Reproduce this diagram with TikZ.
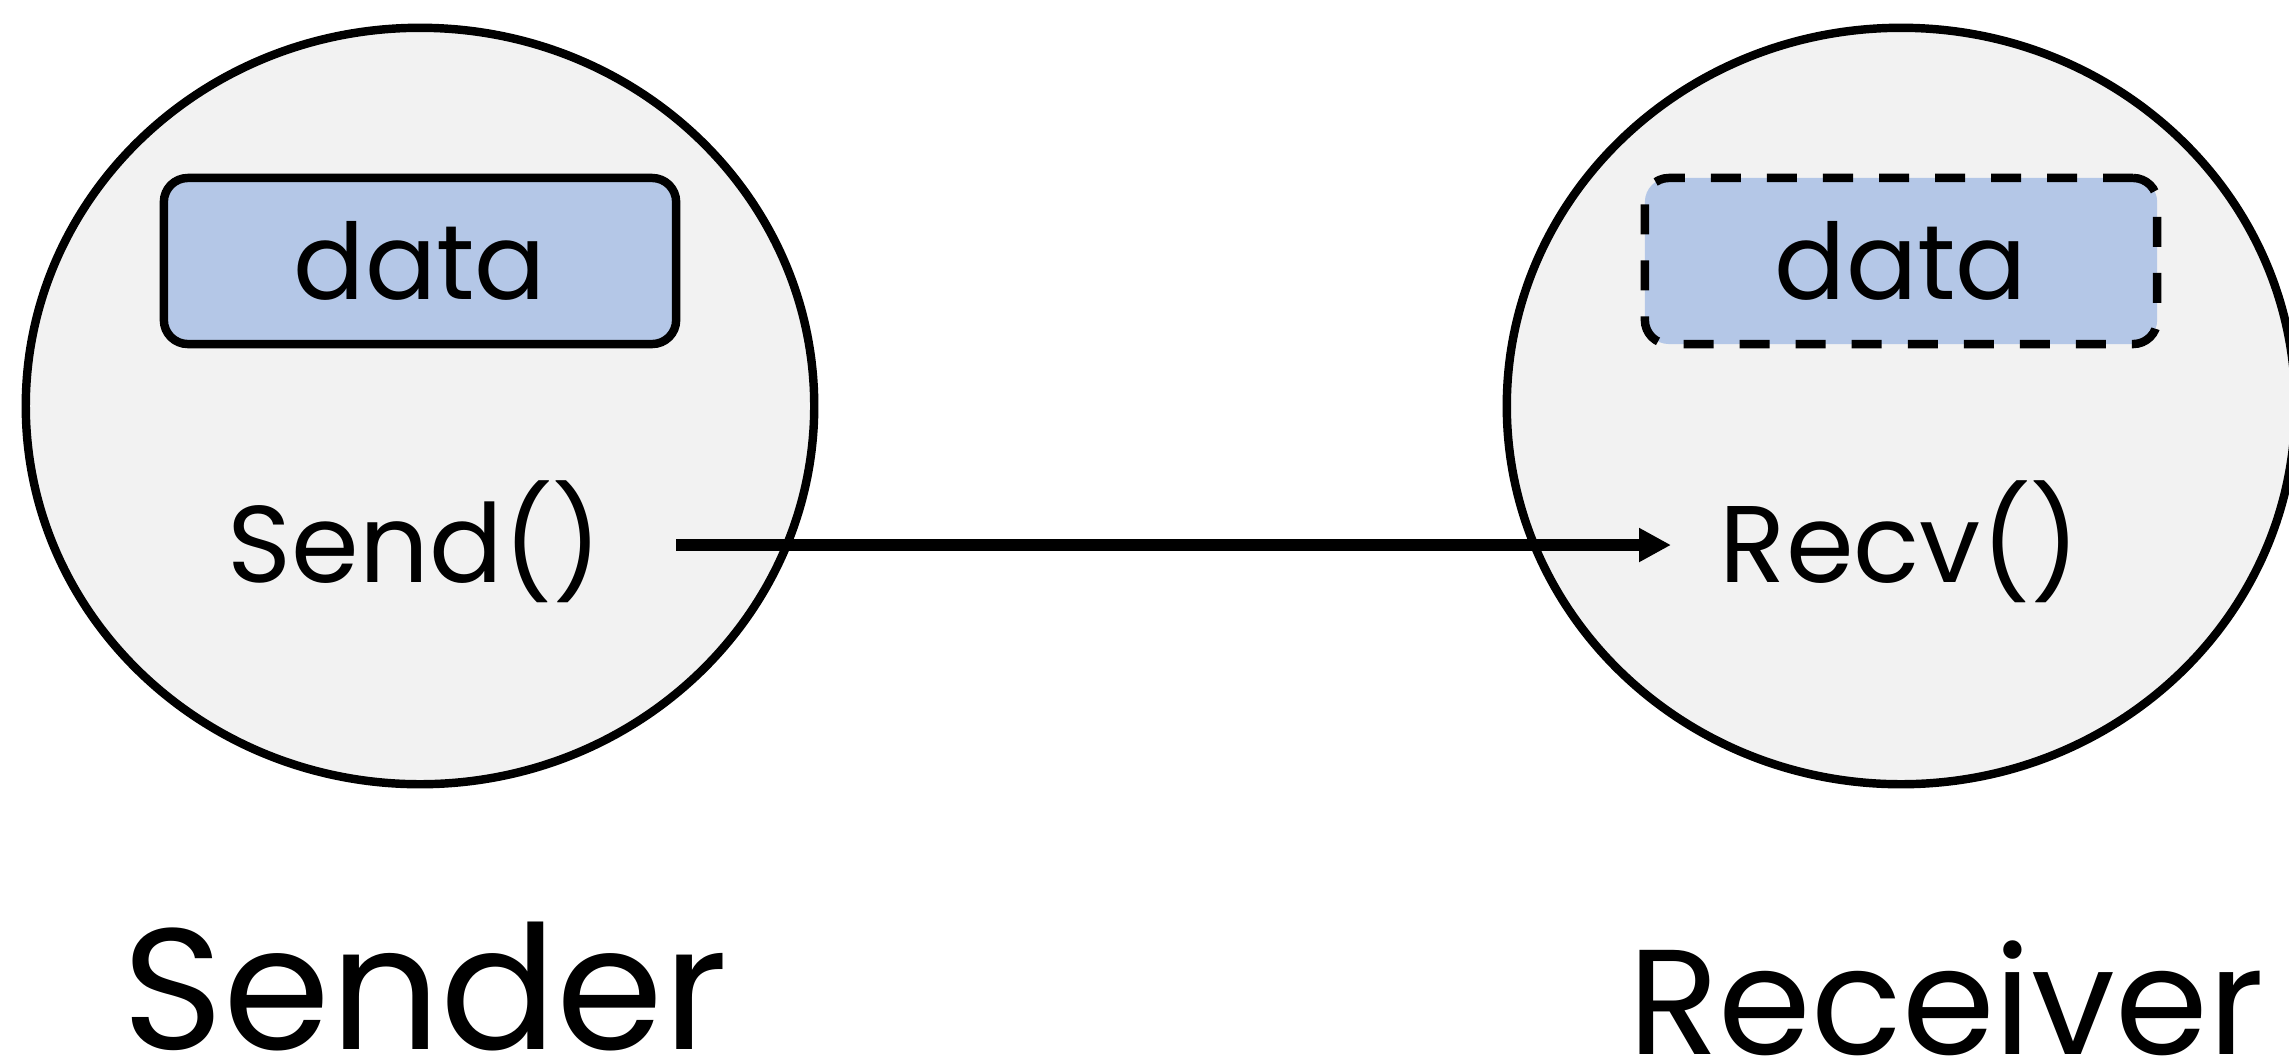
\documentclass[tikz,border=0pt]{standalone}
\usepackage{fontspec}
\setmainfont{Poppins}
\usetikzlibrary{shapes.geometric,arrows.meta}
\definecolor{procfill}{RGB}{242,242,242}
\definecolor{datafill}{RGB}{180,199,231}
\tikzset{
  proc/.style={ellipse, draw=black, line width=2.4pt, fill=procfill,
    minimum width=7.88cm, minimum height=7.56cm, inner sep=0pt},
  databox/.style={rectangle, rounded corners=0.24cm, fill=datafill,
    minimum width=5.12cm, minimum height=1.66cm, inner sep=0pt,
    font=\fontsize{30}{36}\selectfont},
  solidbox/.style={databox, draw=black, line width=2.4pt},
  dashbox/.style={databox, draw=black, line width=2.4pt, dash pattern=on 0.3cm off 0.26cm},
  fn/.style={anchor=base, inner sep=0pt, font=\fontsize{31}{38}\selectfont},
  role/.style={anchor=base, inner sep=0pt},
  msg/.style={line width=3.2pt, -{Triangle[length=0.32cm,width=0.32cm]}}
}
\begin{document}
\begin{tikzpicture}[x=0.01cm,y=-0.01cm]
\useasboundingbox (0,0) rectangle (2289,1063);
\clip (0,0) rectangle (2289,1063);
\node[proc] (sender) at (420,406) {};
\node[proc] (receiver) at (1901,406) {};
\node[solidbox] (sdata) at (420,261) {data};
\node[dashbox] (rdata) at (1901,261) {data};
\node[fn] (send) at (415,582) {Send()};
\node[fn] (recv) at (1900,582) {Recv()};
\coordinate (msgstart) at (676,545);
\coordinate (msgend) at (1671,545);
\draw[msg] (msgstart) -- (msgend);
\node[role, font=\fontsize{49}{58}\selectfont] (senderlbl) at (425,1049) {Sender};
\node[role, font=\fontsize{42.5}{51}\selectfont] (receiverlbl) at (1946,1054) {Receiver};
\end{tikzpicture}
\end{document}
